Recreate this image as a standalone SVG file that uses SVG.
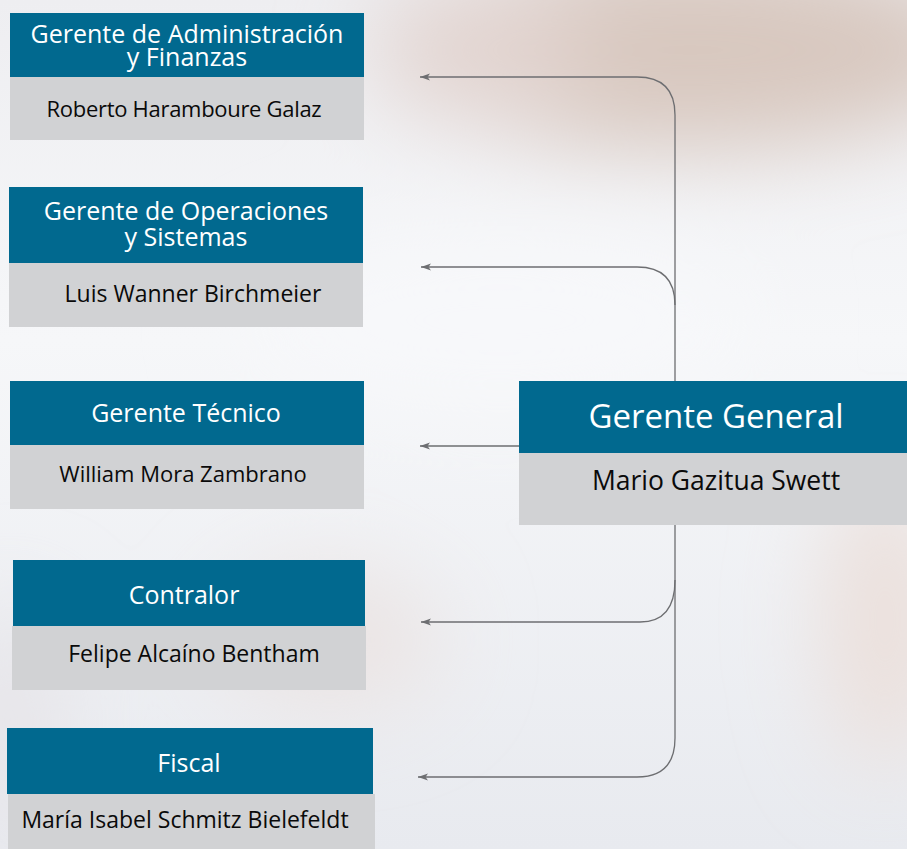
<svg xmlns="http://www.w3.org/2000/svg" width="907" height="849" viewBox="0 0 907 849">
<style>
.hdr{fill:#01698f}
.body{fill:#d1d2d4}
.t{font-family:"Open Sans","Noto Sans",sans-serif;fill:#ffffff;font-size:25px;text-anchor:middle}
.n{font-family:"Open Sans","Noto Sans",sans-serif;fill:#0a0a0a;font-size:23px;text-anchor:middle}
.c{fill:none;stroke:#6d6e71;stroke-width:1.3}
</style>
<defs>
<marker id="ah" markerUnits="userSpaceOnUse" markerWidth="11" markerHeight="9" refX="10" refY="4" orient="auto">
<path d="M0,0.5 L10,4 L0,7.5 L2.5,4 z" fill="#6d6e71"/>
</marker>
<linearGradient id="bg" x1="0" y1="0" x2="0" y2="1">
<stop offset="0" stop-color="#eeeef1"/>
<stop offset="0.4" stop-color="#f6f7f9"/>
<stop offset="1" stop-color="#e8eaef"/>
</linearGradient>
<filter id="blur" x="-50%" y="-50%" width="200%" height="200%"><feGaussianBlur stdDeviation="45"/></filter>
</defs>
<g id="background">
<rect x="0" y="0" width="907" height="849" fill="url(#bg)"/>
<g filter="url(#blur)">
<ellipse cx="690" cy="50" rx="300" ry="100" fill="#d8c8bf"/>
<ellipse cx="480" cy="50" rx="110" ry="70" fill="#e2d4d0"/>
<ellipse cx="885" cy="620" rx="60" ry="150" fill="#ebdfda"/>
<ellipse cx="330" cy="640" rx="110" ry="70" fill="#ebe4e3"/>
<ellipse cx="10" cy="720" rx="50" ry="120" fill="#e6e4e8"/>
<ellipse cx="500" cy="320" rx="260" ry="90" fill="#f7f8fa"/>
</g>
</g>
<g id="connectors">
<path class="c" d="M675,381 L675,115 Q675,77 637,77 L420,77" marker-end="url(#ah)"/>
<path class="c" d="M675,305 Q675,267 637,267 L421,267" marker-end="url(#ah)"/>
<path class="c" d="M519,446 L420,446" marker-end="url(#ah)"/>
<path class="c" d="M675,525 L675,580 Q675,622 640,622 L421,622" marker-end="url(#ah)"/>
<path class="c" d="M675,580 L675,738 Q675,777 637,777 L418,777" marker-end="url(#ah)"/>
</g>
<g id="node-gerente-general">
<rect class="hdr" x="519" y="381" width="388" height="72"/>
<rect class="body" x="519" y="453" width="388" height="72"/>
<text class="t" x="716" y="428" style="font-size:33px">Gerente General</text>
<text class="n" x="716" y="490" style="font-size:26.5px">Mario Gazitua Swett</text>
</g>
<g id="node-admin-finanzas">
<rect class="hdr" x="10" y="13" width="354" height="64"/>
<rect class="body" x="10" y="77" width="354" height="63"/>
<text class="t" x="187" y="43">Gerente de Administración</text>
<text class="t" x="187" y="66">y Finanzas</text>
<text class="n" x="184" y="117" style="font-size:22px;letter-spacing:-0.3px">Roberto Haramboure Galaz</text>
</g>
<g id="node-operaciones-sistemas">
<rect class="hdr" x="9" y="187" width="354" height="76"/>
<rect class="body" x="9" y="263" width="354" height="64"/>
<text class="t" x="186" y="220">Gerente de Operaciones</text>
<text class="t" x="186" y="246">y Sistemas</text>
<text class="n" x="193" y="302">Luis Wanner Birchmeier</text>
</g>
<g id="node-gerente-tecnico">
<rect class="hdr" x="10" y="381" width="354" height="64"/>
<rect class="body" x="10" y="445" width="354" height="64"/>
<text class="t" x="186" y="422">Gerente Técnico</text>
<text class="n" x="183" y="482" style="font-size:22px">William Mora Zambrano</text>
</g>
<g id="node-contralor">
<rect class="hdr" x="13" y="560" width="352" height="66"/>
<rect class="body" x="12" y="626" width="354" height="64"/>
<text class="t" x="184" y="604">Contralor</text>
<text class="n" x="194" y="662">Felipe Alcaíno Bentham</text>
</g>
<g id="node-fiscal">
<rect class="hdr" x="7" y="728" width="366" height="66"/>
<rect class="body" x="8" y="794" width="367" height="60"/>
<text class="t" x="189" y="772">Fiscal</text>
<text class="n" x="185" y="828">María Isabel Schmitz Bielefeldt</text>
</g>
</svg>
